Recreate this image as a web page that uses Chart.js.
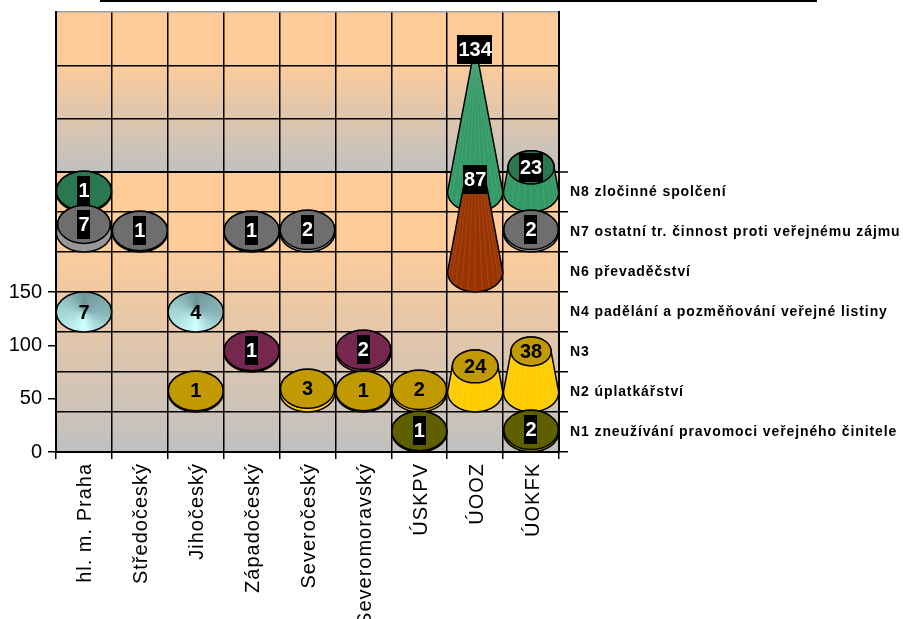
<!DOCTYPE html>
<html>
<head>
<meta charset="utf-8">
<script src="https://cdn.jsdelivr.net/npm/chart.js@4/dist/chart.umd.min.js"></script>
<style>
  html, body { margin: 0; padding: 0; background: #fff; overflow: hidden; }
  #wrap { position: relative; width: 903px; height: 619px; }
  #rule { position: absolute; left: 100px; top: 0; width: 717px; height: 2px; background: #000; }
</style>
</head>
<body>
<div id="wrap">
  <canvas id="myChart" width="903" height="619"></canvas>
  <div id="rule"></div>
</div>
<script>
var categories = ["hl. m. Praha", "Středočeský", "Jihočeský", "Západočeský", "Severočeský", "Severomoravský", "ÚSKPV", "ÚOOZ", "ÚOKFK"];
var seriesNames = [
  "N1 zneužívání pravomoci veřejného činitele",
  "N2 úplatkářství",
  "N3",
  "N4 padělání a pozměňování veřejné listiny",
  "N6 převaděčství",
  "N7 ostatní tr. činnost proti veřejnému zájmu",
  "N8 zločinné spolčení"
];
var n1 = [null, null, null, null, null, null, 1, null, 2];
var n2 = [null, null, 1, null, 3, 1, 2, 24, 38];
var n3 = [null, null, null, 1, null, 2, null, null, null];
var n4 = [7, null, 4, null, null, null, null, null, null];
var n6 = [null, null, null, null, null, null, null, 87, null];
var n7 = [7, 1, null, 1, 2, null, null, null, 2];
var n8 = [1, null, null, null, null, null, null, 134, 23];
var valueTicks = [0, 50, 100, 150];

var ROW = 37.5;         // one depth row, in value units
var WALL = ROW * 7;     // back wall starts here
var CONE_H = 138;       // height at which a cone would reach its point

var looks = [
  { face: "#5f5f00", body: "#7a7a00", dark: true },
  { face: "#c09a00", body: "#ffcc00", dark: false },
  { face: "#75274f", body: "#993366", dark: true },
  { face: "sun", body: "#99cccc", dark: false, flat: true },
  { face: "#7a2800", body: "#993300", dark: true },
  { face: "#6e6e6e", body: "#969696", dark: true },
  { face: "#2a7850", body: "#339966", dark: true }
];

var rows = [n1, n2, n3, n4, n6, n7, n8];

function floating(values, row) {
  var base = (row + 0.5) * ROW;
  return values.map(function (v) {
    return v === null ? null : [base, base + v];
  });
}

// back rows first so the front ones overlap them
var datasets = [];
for (var r = rows.length - 1; r >= 0; r--) {
  datasets.push({
    label: seriesNames[r],
    data: floating(rows[r], r),
    raw: rows[r],
    look: looks[r],
    grouped: false,
    backgroundColor: "rgba(0,0,0,0)",
    borderWidth: 0,
    barPercentage: 1,
    categoryPercentage: 0.99
  });
}

var wallPlugin = {
  id: "wall",
  beforeDraw: function (chart) {
    var c = chart.ctx, a = chart.chartArea, y = chart.scales.y;
    var w = y.getPixelForValue(WALL);
    var g = c.createLinearGradient(0, a.top, 0, w);
    g.addColorStop(0.3, "#ffcc99");
    g.addColorStop(1, "#c0c0c0");
    c.fillStyle = g;
    c.fillRect(a.left, a.top, a.right - a.left, w - a.top);
    var g2 = c.createLinearGradient(0, w, 0, a.bottom);
    g2.addColorStop(0.25, "#ffcc99");
    g2.addColorStop(1, "#c0c0c0");
    c.fillStyle = g2;
    c.fillRect(a.left, w, a.right - a.left, a.bottom - w);
  }
};

function sunFill(c, x, y) {
  var g = c.createConicGradient(0, x, y);
  g.addColorStop(0, "#86b4b6");
  g.addColorStop(0.25, "#d2ffff");
  g.addColorStop(0.5, "#a4d6d6");
  g.addColorStop(0.75, "#6f979b");
  g.addColorStop(1, "#86b4b6");
  return g;
}

function mantle(c, x, by, R, Ry, ty, r, ry) {
  c.beginPath();
  c.ellipse(x, by, R, Ry, 0, 0, Math.PI);
  c.lineTo(x - r, ty);
  c.ellipse(x, ty, r, ry, 0, Math.PI, 2 * Math.PI);
  c.closePath();
}

function drawCone(c, el, value, look) {
  var R = el.width / 2, Ry = R * 0.72;
  var x = el.x, by = el.base, ty = el.y;
  var k = Math.max(0, 1 - value / CONE_H);
  var r = R * k, ry = Ry * k;

  c.lineWidth = 1.5;
  c.strokeStyle = "#000";

  if (look.flat) {
    c.beginPath();
    c.ellipse(x, by, R, Ry, 0, 0, 2 * Math.PI);
    c.fillStyle = sunFill(c, x, by);
    c.fill();
    c.stroke();
    return;
  }

  mantle(c, x, by, R, Ry, ty, r, ry);
  c.fillStyle = look.body;
  c.fill();

  // pale streaks down the mantle
  c.save();
  c.clip();
  c.strokeStyle = "rgba(255,255,255,0.1)";
  c.lineWidth = 1;
  for (var i = 1; i < 12; i++) {
    var t = Math.PI * i / 12;
    c.beginPath();
    c.moveTo(x + r * Math.cos(t), ty + ry * Math.sin(t));
    c.lineTo(x + R * Math.cos(t), by + Ry * Math.sin(t));
    c.stroke();
  }
  c.restore();

  mantle(c, x, by, R, Ry, ty, r, ry);
  c.stroke();

  if (r > 1) {
    c.beginPath();
    c.ellipse(x, ty, r, ry, 0, 0, 2 * Math.PI);
    c.fillStyle = look.face;
    c.fill();
    c.stroke();
  }
}

function drawLabel(c, el, value, look) {
  var s = String(value);
  var y = look.flat ? el.base : el.y;
  c.font = "bold 20px 'Liberation Sans'";
  c.textAlign = "center";
  c.textBaseline = "middle";
  if (look.dark) {
    var w = c.measureText(s).width + 2;
    c.fillStyle = "#000";
    c.fillRect(Math.round(el.x - w / 2), Math.round(y - 14.5), Math.round(w), 29);
    c.fillStyle = "#fff";
  } else {
    c.fillStyle = "#000";
  }
  c.fillText(s, el.x, y + 1);
}

var conePlugin = {
  id: "cones",
  afterDatasetsDraw: function (chart) {
    var c = chart.ctx;
    c.save();
    chart.data.datasets.forEach(function (ds, i) {
      chart.getDatasetMeta(i).data.forEach(function (el, j) {
        if (ds.raw[j] !== null) drawCone(c, el, ds.raw[j], ds.look);
      });
    });
    chart.data.datasets.forEach(function (ds, i) {
      chart.getDatasetMeta(i).data.forEach(function (el, j) {
        if (ds.raw[j] !== null) drawLabel(c, el, ds.raw[j], ds.look);
      });
    });
    c.restore();
  }
};

// the original text is slightly tracked out, Chart.js has no option for it
function spaced(scale, px) {
  var orig = scale.drawLabels;
  if (orig.isSpaced) return;
  scale.drawLabels = function (area) {
    var c = scale.ctx;
    c.save();
    c.letterSpacing = px;
    orig.call(scale, area);
    c.restore();
  };
  scale.drawLabels.isSpaced = true;
}

// no extra room for the end tick labels, the plot edges are fixed
function noPad(scale) {
  scale.paddingTop = 0;
  scale.paddingBottom = 0;
}

var topValue = WALL + 150;

var chart = new Chart("myChart", {
  type: "bar",
  plugins: [wallPlugin, conePlugin],
  data: { labels: categories, datasets: datasets },
  options: {
    responsive: false,
    animation: false,
    layout: { padding: { top: 12, left: 0, right: 0, bottom: 0 } },
    plugins: { legend: { display: false }, tooltip: { enabled: false } },
    scales: {
      x: {
        afterFit: function (s) { s.height = 167; s.paddingLeft = 0; s.paddingRight = 0; spaced(s, "1px"); },
        border: { color: "#000", width: 2 },
        grid: { color: "#000", lineWidth: 1.5, tickColor: "#000", tickWidth: 1.5, tickLength: 7, offset: true },
        ticks: {
          color: "#000", maxRotation: 90, minRotation: 90, padding: 4, labelOffset: 2, autoSkip: false,
          font: { family: "Liberation Sans", size: 20 }
        }
      },
      y: {
        position: "left",
        min: 0,
        max: topValue,
        afterFit: function (s) { s.width = 56; noPad(s); },
        afterBuildTicks: function (s) {
          s.ticks = valueTicks.map(function (v) { return { value: v }; });
        },
        border: { color: "#000", width: 2 },
        grid: { drawOnChartArea: false, color: "#000", tickLength: 8, lineWidth: 1.5 },
        ticks: {
          color: "#000", padding: 6, autoSkip: false,
          font: { family: "Liberation Sans", size: 20 },
          callback: function (v) { return v; }
        }
      },
      rows: {
        position: "right",
        min: 0,
        max: topValue,
        afterFit: function (s) { s.width = 344; noPad(s); spaced(s, "0.9px"); },
        afterBuildTicks: function (s) {
          var t = [];
          for (var i = 0; i <= 7; i++) t.push({ value: i * ROW, line: true });
          for (var j = 0; j < 7; j++) t.push({ value: (j + 0.5) * ROW, name: seriesNames[j] });
          [50, 100, 150].forEach(function (v) { t.push({ value: WALL + v, line: true }); });
          t.sort(function (a, b) { return a.value - b.value; });
          s.ticks = t;
        },
        border: { color: "#000", width: 2 },
        grid: {
          tickLength: 9,
          color: function (ctx) {
            if (!ctx.tick || !ctx.tick.line) return "rgba(0,0,0,0)";
            return ctx.tick.value === topValue ? "#a0a0a0" : "#000";
          },
          tickColor: function (ctx) {
            if (!ctx.tick || !ctx.tick.line || ctx.tick.value > WALL) return "rgba(0,0,0,0)";
            return "#000";
          },
          lineWidth: function (ctx) {
            return ctx.tick && ctx.tick.value === WALL ? 2 : 1.5;
          },
          tickWidth: 1.5
        },
        ticks: {
          color: "#000", padding: 2, autoSkip: false, crossAlign: "near",
          font: { family: "Liberation Sans", size: 14, weight: "bold" },
          callback: function (v, i, all) { return all[i].name || ""; }
        }
      }
    }
  }
});
</script>
</body>
</html>
